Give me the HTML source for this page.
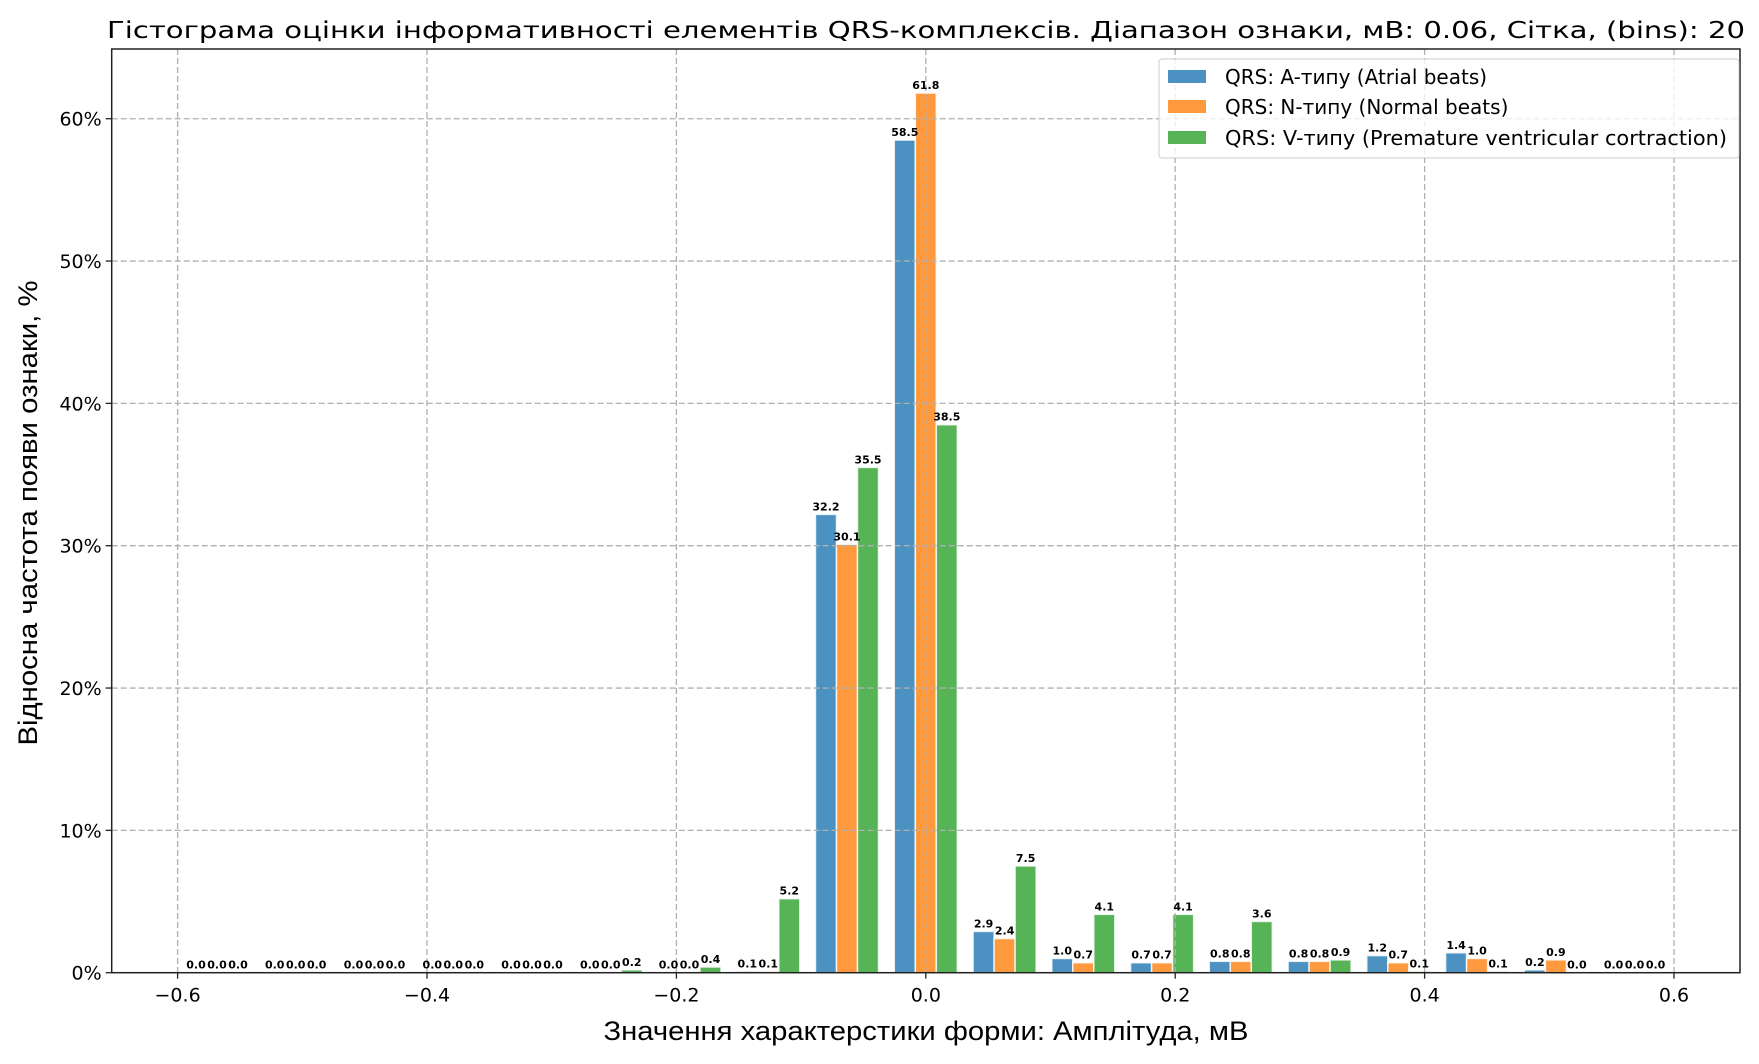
<!DOCTYPE html>
<html><head><meta charset="utf-8"><style>
body{margin:0;background:#fff}
svg text{font-family:"DejaVu Sans","Liberation Sans",sans-serif}
</style></head><body>
<svg id="chart" width="1759" height="1059" xmlns="http://www.w3.org/2000/svg">
<rect width="1759" height="1059" fill="#fff"/>
<text x="926" y="38" font-size="23" text-anchor="middle" textLength="1638" lengthAdjust="spacingAndGlyphs">Гістограма оцінки інформативності елементів QRS-комплексів. Діапазон ознаки, мВ: 0.06, Сітка, (bins): 20</text>
<g id="bars"></g><g id="grid"></g><g id="labels"></g><g id="axes"></g>
<text x="926" y="1040" font-size="27" text-anchor="middle" textLength="645" lengthAdjust="spacingAndGlyphs" style="font-family:'Liberation Sans',sans-serif">Значення характерстики форми: Амплітуда, мВ</text>
<text transform="translate(37,513) rotate(-90)" font-size="27" text-anchor="middle" textLength="465" lengthAdjust="spacingAndGlyphs" style="font-family:'Liberation Sans',sans-serif">Відносна частота появи ознаки, %</text>
<g>
<rect x="1159" y="59" width="580" height="99" fill="#fff" fill-opacity="0.8" stroke="#ccc" rx="3"/>
<rect x="1168" y="70" width="38" height="13" fill="#4b92c3"/>
<text x="1225" y="84" font-size="20">QRS: A-типу (Atrial beats)</text>
<rect x="1168" y="100" width="38" height="13" fill="#ff993e"/>
<text x="1225" y="114" font-size="20">QRS: N-типу (Normal beats)</text>
<rect x="1168" y="131" width="38" height="13" fill="#56b356"/>
<text x="1225" y="145" font-size="20" textLength="502" lengthAdjust="spacingAndGlyphs">QRS: V-типу (Premature ventricular cortraction)</text>
</g>
</svg>
<script>
const binCenters=[-0.5684,-0.5053,-0.4421,-0.3789,-0.3158,-0.2526,-0.1895,-0.1263,-0.0632,0,0.0632,0.1263,0.1895,0.2526,0.3158,0.3789,0.4421,0.5053,0.5684];
const seriesA=[0,0,0,0,0,0,0,0.1,32.2,58.5,2.9,1.0,0.7,0.8,0.8,1.2,1.4,0.2,0];
const seriesN=[0,0,0,0,0,0,0,0.1,30.1,61.8,2.4,0.7,0.7,0.8,0.8,0.7,1.0,0.9,0];
const seriesV=[0,0,0,0,0,0.2,0.4,5.2,35.5,38.5,7.5,4.1,4.1,3.6,0.9,0.1,0.1,0.0,0];
const xTicks=[-0.6,-0.4,-0.2,0,0.2,0.4,0.6];
const xTickLabels=["−0.6","−0.4","−0.2","0.0","0.2","0.4","0.6"];
const yTicks=[0,10,20,30,40,50,60];
const yTickLabels=["0%","10%","20%","30%","40%","50%","60%"];
const NS="http://www.w3.org/2000/svg";
const L=111.7,R=1740,T=49,B=972.7;
const xs=v=>925.8+v*1247;
const ys=v=>B-v*14.233;
const barW=0.06316*0.8/3;
function mk(tag,attrs,parent){const e=document.createElementNS(NS,tag);for(const k in attrs)e.setAttribute(k,attrs[k]);parent.appendChild(e);return e;}
const gb=document.getElementById('bars'),gg=document.getElementById('grid'),gl=document.getElementById('labels'),ga=document.getElementById('axes');
const series=[[seriesA,'#4b92c3','a'],[seriesN,'#ff993e','n'],[seriesV,'#56b356','v']];
series.forEach(([vals,col,id],si)=>{
  vals.forEach((v,i)=>{
    const c=binCenters[i]+(si-1)*barW;
    const x0=xs(c-barW/2),x1=xs(c+barW/2);
    const r=mk('rect',{x:x0,y:ys(v),width:x1-x0,height:B-ys(v),fill:col,stroke:'#fff','stroke-width':1.5,'stroke-opacity':0.8},gb);
    
    
    const t=mk('text',{x:xs(c),y:ys(v)-4,'font-size':11,'font-weight':'bold','text-anchor':'middle'},gl);
    t.textContent=v.toFixed(1);
    
    
  });
});
xTicks.forEach((v,i)=>{
  const x=xs(v);
  mk('line',{x1:x,x2:x,y1:T,y2:B,stroke:'#b0b0b0','stroke-dasharray':'6,3','stroke-width':1.3},gg);
  mk('line',{x1:x,x2:x,y1:B,y2:B+6,stroke:'#222','stroke-width':1.3},ga);
  const t=mk('text',{x:x,y:B+29,'font-size':19,'text-anchor':'middle'},ga);
  t.textContent=xTickLabels[i];
  
  
});
yTicks.forEach((v,i)=>{
  const y=ys(v);
  mk('line',{x1:L,x2:R,y1:y,y2:y,stroke:'#b0b0b0','stroke-dasharray':'6,3','stroke-width':1.3},gg);
  mk('line',{x1:L-6,x2:L,y1:y,y2:y,stroke:'#222','stroke-width':1.3},ga);
  const t=mk('text',{x:L-10,y:y+7,'font-size':19,'text-anchor':'end'},ga);
  t.textContent=yTickLabels[i];
  
  
});
const f=mk('rect',{x:L,y:T,width:R-L,height:B-T,fill:'none',stroke:'#222','stroke-width':1.5},ga);


</script>
</body></html>
